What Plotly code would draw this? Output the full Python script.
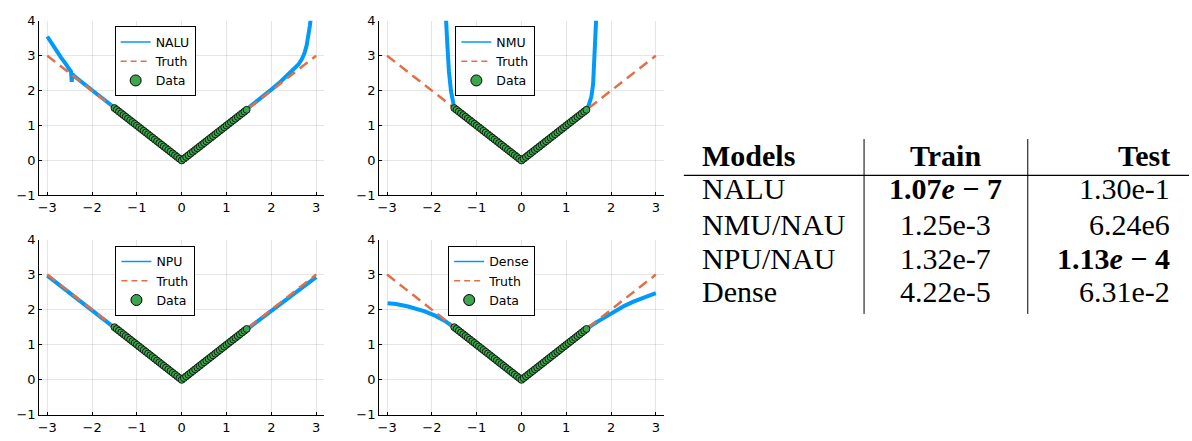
import plotly.graph_objects as go

# ---------------- data ----------------
data_x = [-1.50, -1.45, -1.40, -1.35, -1.30, -1.25, -1.20, -1.15, -1.10, -1.05,
          -1.00, -0.95, -0.90, -0.85, -0.80, -0.75, -0.70, -0.65, -0.60, -0.55,
          -0.50, -0.45, -0.40, -0.35, -0.30, -0.25, -0.20, -0.15, -0.10, -0.05,
          0.00, 0.05, 0.10, 0.15, 0.20, 0.25, 0.30, 0.35, 0.40, 0.45,
          0.50, 0.55, 0.60, 0.65, 0.70, 0.75, 0.80, 0.85, 0.90, 0.95,
          1.00, 1.05, 1.10, 1.15, 1.20, 1.25, 1.30, 1.35, 1.40, 1.45]
data_y = [1.50, 1.45, 1.40, 1.35, 1.30, 1.25, 1.20, 1.15, 1.10, 1.05,
          1.00, 0.95, 0.90, 0.85, 0.80, 0.75, 0.70, 0.65, 0.60, 0.55,
          0.50, 0.45, 0.40, 0.35, 0.30, 0.25, 0.20, 0.15, 0.10, 0.05,
          0.00, 0.05, 0.10, 0.15, 0.20, 0.25, 0.30, 0.35, 0.40, 0.45,
          0.50, 0.55, 0.60, 0.65, 0.70, 0.75, 0.80, 0.85, 0.90, 0.95,
          1.00, 1.05, 1.10, 1.15, 1.20, 1.25, 1.30, 1.35, 1.40, 1.45]

truth_x = [-3.0, 0.0, 3.0]
truth_y = [3.0, 0.0, 3.0]

nalu_x = [-3.0, -2.9, -2.8, -2.7, -2.6, -2.5, -2.47, -2.455, -2.44, -2.4, -2.3,
          -2.2, -2.0, -1.8, -1.6, -1.5, -1.0, -0.5, 0.0, 0.5, 1.0, 1.5, 1.8,
          2.0, 2.2, 2.4, 2.5, 2.6, 2.68, 2.74, 2.79, 2.83, 2.86, 2.89, 2.92]
nalu_y = [3.55, 3.34, 3.14, 2.96, 2.79, 2.61, 2.54, 2.25, 2.47, 2.42, 2.31,
          2.21, 2.01, 1.81, 1.61, 1.51, 1.00, 0.50, 0.02, 0.50, 1.00, 1.50, 1.81,
          2.03, 2.25, 2.48, 2.60, 2.74, 2.90, 3.07, 3.30, 3.55, 3.85, 4.15, 4.50]

nmu_x = [-1.70, -1.69, -1.67, -1.65, -1.62, -1.575, -1.52, -1.5, -1.0, -0.5,
         0.0, 0.5, 1.0, 1.45, 1.5, 1.56, 1.6, 1.63, 1.65, 1.67, 1.68]
nmu_y = [4.40, 4.05, 3.60, 3.20, 2.55, 2.00, 1.63, 1.50, 1.00, 0.50,
         0.02, 0.50, 1.00, 1.45, 1.58, 1.82, 2.19, 2.83, 3.40, 4.05, 4.40]

npu_x = [-3.0, -2.0, -1.5, 0.0, 1.5, 2.0, 3.0]
npu_y = [2.97, 1.98, 1.49, 0.00, 1.48, 1.96, 2.93]

dense_x = [-2.99, -2.8, -2.53, -2.3, -2.16, -1.93, -1.71, -1.52, -1.0, -0.5,
           0.0, 0.5, 1.0, 1.52, 1.7, 1.9, 2.1, 2.3, 2.5, 2.7, 2.85, 3.0]
dense_y = [2.18, 2.16, 2.09, 2.01, 1.95, 1.83, 1.68, 1.51, 1.00, 0.50,
           0.02, 0.50, 1.00, 1.51, 1.66, 1.82, 1.97, 2.11, 2.23, 2.33, 2.41, 2.47]

panel_names = ["NALU", "NMU", "NPU", "Dense"]
panel_x = [nalu_x, nmu_x, npu_x, dense_x]
panel_y = [nalu_y, nmu_y, npu_y, dense_y]

x_ticks = [-3, -2, -1, 0, 1, 2, 3]
y_ticks = [-1, 0, 1, 2, 3, 4]

table_models = ["NALU", "NMU/NAU", "NPU/NAU", "Dense"]
table_train = ["1.07e-7", "1.25e-3", "1.32e-7", "4.22e-5"]
table_test = ["1.30e-1", "6.24e6", "1.13e-4", "6.31e-2"]
best_train = 0
best_test = 2

# ---------------- styling ----------------
W, H = 1192, 441
BLUE = "#009AFA"
ORANGE = "#E36F47"
GREEN = "#3EA44E"

# panel pixel boxes: (left, right, top, bottom)
boxes = [(37.3, 322.7, 14.3, 195.0), (377.7, 663.0, 14.3, 195.0),
         (37.3, 322.7, 240.7, 422.3), (377.7, 663.0, 240.7, 422.3)]
legend_pos = [(153.4, 20.0), (494.2, 20.0), (153.7, 247.3), (490.5, 247.3)]


def px_x(p):
    return p / W


def px_y(p):
    return 1 - p / H


fig = go.Figure()
layout = dict(width=W, height=H, margin=dict(l=0, r=0, t=0, b=0),
              autosize=False, plot_bgcolor="white", paper_bgcolor="white",
              showlegend=True)

for i in range(4):
    xa = "x" if i == 0 else f"x{i+1}"
    ya = "y" if i == 0 else f"y{i+1}"
    lg = "legend" if i == 0 else f"legend{i+1}"
    # model curve
    fig.add_trace(go.Scatter(x=panel_x[i], y=panel_y[i], mode="lines",
                             line=dict(color=BLUE, width=4), xaxis=xa, yaxis=ya,
                             showlegend=False, hoverinfo="skip"))
    # truth
    fig.add_trace(go.Scatter(x=truth_x, y=truth_y, mode="lines",
                             line=dict(color=ORANGE, width=2.5, dash="10px,6px"),
                             xaxis=xa, yaxis=ya, showlegend=False, hoverinfo="skip"))
    # data
    fig.add_trace(go.Scatter(x=data_x, y=data_y, mode="markers",
                             marker=dict(color=GREEN, size=7,
                                         line=dict(color="black", width=0.8)),
                             xaxis=xa, yaxis=ya, showlegend=False, hoverinfo="skip"))
    # legend entries
    fig.add_trace(go.Scatter(x=[None], y=[None], mode="lines", name=panel_names[i],
                             line=dict(color=BLUE, width=1.5), xaxis=xa, yaxis=ya,
                             legend=lg))
    fig.add_trace(go.Scatter(x=[None], y=[None], mode="lines", name="Truth",
                             line=dict(color=ORANGE, width=1.5, dash="6px,4px"),
                             xaxis=xa, yaxis=ya, legend=lg))
    fig.add_trace(go.Scatter(x=[None], y=[None], mode="markers", name="Data",
                             marker=dict(color=GREEN, size=11,
                                         line=dict(color="black", width=1)),
                             xaxis=xa, yaxis=ya, legend=lg))

    l, r, t, b = boxes[i]
    axis_common = dict(showline=True, linecolor="black", linewidth=1,
                       showgrid=True, gridcolor="rgba(0,0,0,0.1)", gridwidth=1,
                       zeroline=False, ticks="inside", ticklen=3, tickcolor="black",
                       tickfont=dict(family="DejaVu Sans", size=13, color="black"),
                       mirror=False, fixedrange=True)
    xkey = "xaxis" if i == 0 else f"xaxis{i+1}"
    ykey = "yaxis" if i == 0 else f"yaxis{i+1}"
    layout[xkey] = dict(axis_common, domain=[px_x(l), px_x(r)], range=[-3.18, 3.18],
                        tickmode="array", tickvals=x_ticks, anchor=ya)
    layout[ykey] = dict(axis_common, domain=[px_y(b), px_y(t)], range=[-1, 4],
                        tickmode="array", tickvals=y_ticks, anchor=xa)
    lx, ly = legend_pos[i]
    layout[lg] = dict(x=px_x(lx), y=px_y(ly), xanchor="center", yanchor="top",
                      xref="paper", yref="paper",
                      bgcolor="white", bordercolor="black", borderwidth=1,
                      font=dict(family="DejaVu Sans", size=12.5, color="black"),
                      itemwidth=30, tracegroupgap=0)

fig.update_layout(**layout)

# ---------------- table ----------------
TFONT = "Liberation Serif"
TSIZE = 30
col_models_x = 699.5
col_train_x = 945.5
col_test_x = 1172.0
header_y = 154.0
row_y = [188.3, 225.0, 260.0, 295.0]


def fmt_bold(s):
    mant, ex = s.split("e")
    sign = "−" if ex.startswith("-") else "+"
    return f"<b>{mant}<i>e</i> {sign} {ex.lstrip('-+')}</b>"


ann = []
ann.append(dict(text="<b>Models</b>", x=px_x(col_models_x), y=px_y(header_y),
                xanchor="left", yanchor="middle"))
ann.append(dict(text="<b>Train</b>", x=px_x(col_train_x), y=px_y(header_y),
                xanchor="center", yanchor="middle"))
ann.append(dict(text="<b>Test</b>", x=px_x(col_test_x), y=px_y(header_y),
                xanchor="right", yanchor="middle"))
for k in range(len(table_models)):
    yy = px_y(row_y[k])
    ann.append(dict(text=table_models[k], x=px_x(col_models_x), y=yy,
                    xanchor="left", yanchor="middle"))
    tr = fmt_bold(table_train[k]) if k == best_train else table_train[k]
    te = fmt_bold(table_test[k]) if k == best_test else table_test[k]
    ann.append(dict(text=tr, x=px_x(col_train_x), y=yy,
                    xanchor="center", yanchor="middle"))
    ann.append(dict(text=te, x=px_x(col_test_x), y=yy,
                    xanchor="right", yanchor="middle"))
for a in ann:
    a.update(xref="paper", yref="paper", showarrow=False,
             font=dict(family=TFONT, size=TSIZE, color="black"))
fig.update_layout(annotations=ann)

shapes = [
    dict(type="line", xref="paper", yref="paper", x0=px_x(683), x1=px_x(1189),
         y0=px_y(174.3), y1=px_y(174.3), line=dict(color="black", width=1.2)),
    dict(type="line", xref="paper", yref="paper", x0=px_x(863.5), x1=px_x(863.5),
         y0=px_y(136.7), y1=px_y(317.7), line=dict(color="black", width=1)),
    dict(type="line", xref="paper", yref="paper", x0=px_x(1027.5), x1=px_x(1027.5),
         y0=px_y(136.7), y1=px_y(317.7), line=dict(color="black", width=1)),
]
fig.update_layout(shapes=shapes)

fig.write_html("out.html", config={"displayModeBar": False},
               post_script="document.body.style.margin='0px';")
